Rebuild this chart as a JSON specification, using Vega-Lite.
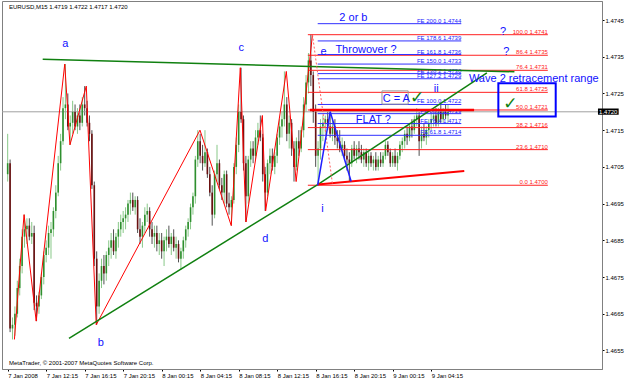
{
"$schema": "https://vega.github.io/schema/vega-lite/v6.json",
"width": 600, "height": 368,
"autosize": {"type": "none"},
"padding": {"left": 2, "top": 1, "right": 23, "bottom": 10},
"background": "white",
"config": {"view": {"stroke": "#808080", "strokeWidth": 1},
 "axis": {"labelFont": "Liberation Sans", "labelFontSize": 6, "labelColor": "#000000", "tickColor": "#000000", "tickSize": 2, "domainColor": "#808080", "grid": false}},
"datasets": {
"candles": [
{"t":0,"o":1.4703,"h":1.4714,"l":1.4701,"c":1.4706},
{"t":0.25,"o":1.4706,"h":1.4707,"l":1.466,"c":1.4661},
{"t":0.5,"o":1.4661,"h":1.4664,"l":1.4658,"c":1.4662},
{"t":0.75,"o":1.4662,"h":1.4667,"l":1.4659,"c":1.4665},
{"t":1,"o":1.4665,"h":1.4674,"l":1.4664,"c":1.4672},
{"t":1.25,"o":1.4672,"h":1.468,"l":1.467,"c":1.4678},
{"t":1.5,"o":1.4678,"h":1.4688,"l":1.4676,"c":1.4686},
{"t":1.75,"o":1.4686,"h":1.4692,"l":1.4683,"c":1.4688},
{"t":2,"o":1.4688,"h":1.4691,"l":1.4684,"c":1.4689},
{"t":2.25,"o":1.4689,"h":1.4691,"l":1.4685,"c":1.4686},
{"t":2.5,"o":1.4686,"h":1.469,"l":1.4684,"c":1.4687},
{"t":2.75,"o":1.4687,"h":1.4689,"l":1.4666,"c":1.4668},
{"t":3,"o":1.4668,"h":1.467,"l":1.4663,"c":1.4667},
{"t":3.25,"o":1.4667,"h":1.4671,"l":1.4665,"c":1.467},
{"t":3.5,"o":1.467,"h":1.4676,"l":1.4669,"c":1.4675},
{"t":3.75,"o":1.4675,"h":1.4682,"l":1.4673,"c":1.4681},
{"t":4,"o":1.4681,"h":1.4685,"l":1.4679,"c":1.4683},
{"t":4.25,"o":1.4683,"h":1.4689,"l":1.4681,"c":1.4687},
{"t":4.5,"o":1.4687,"h":1.469,"l":1.468,"c":1.4688},
{"t":4.75,"o":1.4688,"h":1.4694,"l":1.4686,"c":1.4693},
{"t":5,"o":1.4693,"h":1.47,"l":1.4691,"c":1.4698},
{"t":5.25,"o":1.4698,"h":1.4708,"l":1.4697,"c":1.4706},
{"t":5.5,"o":1.4706,"h":1.4714,"l":1.4704,"c":1.4712},
{"t":5.75,"o":1.4712,"h":1.4724,"l":1.4711,"c":1.4721},
{"t":6,"o":1.4721,"h":1.4733,"l":1.4718,"c":1.4722},
{"t":6.25,"o":1.4722,"h":1.4725,"l":1.4715,"c":1.4716},
{"t":6.5,"o":1.4716,"h":1.4719,"l":1.4711,"c":1.4717},
{"t":6.75,"o":1.4717,"h":1.4723,"l":1.4714,"c":1.472},
{"t":7,"o":1.472,"h":1.4722,"l":1.4715,"c":1.4716},
{"t":7.25,"o":1.4716,"h":1.4721,"l":1.4714,"c":1.4719},
{"t":7.5,"o":1.4719,"h":1.4722,"l":1.4715,"c":1.4717},
{"t":7.75,"o":1.4717,"h":1.4724,"l":1.4716,"c":1.4722},
{"t":8,"o":1.4722,"h":1.4727,"l":1.4719,"c":1.4721},
{"t":8.25,"o":1.4721,"h":1.4723,"l":1.4716,"c":1.4717},
{"t":8.5,"o":1.4717,"h":1.4719,"l":1.4712,"c":1.4714},
{"t":8.75,"o":1.4714,"h":1.4715,"l":1.4699,"c":1.47},
{"t":9,"o":1.47,"h":1.4701,"l":1.4678,"c":1.468},
{"t":9.25,"o":1.468,"h":1.4682,"l":1.4662,"c":1.4667},
{"t":9.5,"o":1.4667,"h":1.4676,"l":1.4665,"c":1.4674},
{"t":9.75,"o":1.4674,"h":1.468,"l":1.4672,"c":1.4678},
{"t":10,"o":1.4678,"h":1.4681,"l":1.4673,"c":1.4676},
{"t":10.25,"o":1.4676,"h":1.4682,"l":1.4674,"c":1.4681},
{"t":10.5,"o":1.4681,"h":1.4685,"l":1.4678,"c":1.4683},
{"t":10.75,"o":1.4683,"h":1.4687,"l":1.468,"c":1.4685},
{"t":11,"o":1.4685,"h":1.4688,"l":1.4681,"c":1.4682},
{"t":11.25,"o":1.4682,"h":1.4687,"l":1.468,"c":1.4686},
{"t":11.5,"o":1.4686,"h":1.469,"l":1.4683,"c":1.4688},
{"t":11.75,"o":1.4688,"h":1.4692,"l":1.4686,"c":1.469},
{"t":12,"o":1.469,"h":1.4693,"l":1.4687,"c":1.4691},
{"t":12.25,"o":1.4691,"h":1.4694,"l":1.4688,"c":1.4692},
{"t":12.5,"o":1.4692,"h":1.4696,"l":1.469,"c":1.4695},
{"t":12.75,"o":1.4695,"h":1.4698,"l":1.4692,"c":1.4696},
{"t":13,"o":1.4696,"h":1.4698,"l":1.4693,"c":1.4694},
{"t":13.25,"o":1.4694,"h":1.4697,"l":1.4692,"c":1.4696},
{"t":13.5,"o":1.4696,"h":1.4697,"l":1.4687,"c":1.4688},
{"t":13.75,"o":1.4688,"h":1.4691,"l":1.4684,"c":1.4686},
{"t":14,"o":1.4686,"h":1.469,"l":1.4683,"c":1.4689},
{"t":14.25,"o":1.4689,"h":1.4694,"l":1.4687,"c":1.4692},
{"t":14.5,"o":1.4692,"h":1.4695,"l":1.469,"c":1.4693},
{"t":14.75,"o":1.4693,"h":1.4694,"l":1.4686,"c":1.4688},
{"t":15,"o":1.4688,"h":1.469,"l":1.4684,"c":1.4686},
{"t":15.25,"o":1.4686,"h":1.4689,"l":1.4683,"c":1.4687},
{"t":15.5,"o":1.4687,"h":1.4689,"l":1.4682,"c":1.4684},
{"t":15.75,"o":1.4684,"h":1.4687,"l":1.4681,"c":1.4685},
{"t":16,"o":1.4685,"h":1.4687,"l":1.468,"c":1.4682},
{"t":16.25,"o":1.4682,"h":1.4686,"l":1.4678,"c":1.4685},
{"t":16.5,"o":1.4685,"h":1.4688,"l":1.4682,"c":1.4686},
{"t":16.75,"o":1.4686,"h":1.4689,"l":1.4683,"c":1.4684},
{"t":17,"o":1.4684,"h":1.4687,"l":1.4681,"c":1.4686},
{"t":17.25,"o":1.4686,"h":1.4688,"l":1.4682,"c":1.4683},
{"t":17.5,"o":1.4683,"h":1.4686,"l":1.468,"c":1.4684},
{"t":17.75,"o":1.4684,"h":1.4685,"l":1.4679,"c":1.468},
{"t":18,"o":1.468,"h":1.4683,"l":1.4677,"c":1.4682},
{"t":18.25,"o":1.4682,"h":1.4686,"l":1.468,"c":1.4685},
{"t":18.5,"o":1.4685,"h":1.4689,"l":1.4683,"c":1.4688},
{"t":18.75,"o":1.4688,"h":1.4691,"l":1.4686,"c":1.469},
{"t":19,"o":1.469,"h":1.4695,"l":1.4688,"c":1.4694},
{"t":19.25,"o":1.4694,"h":1.4698,"l":1.4692,"c":1.4697},
{"t":19.5,"o":1.4697,"h":1.4708,"l":1.4695,"c":1.4707},
{"t":19.75,"o":1.4707,"h":1.4715,"l":1.4705,"c":1.4712},
{"t":20,"o":1.4712,"h":1.4714,"l":1.4706,"c":1.4708},
{"t":20.25,"o":1.4708,"h":1.4711,"l":1.4704,"c":1.4706},
{"t":20.5,"o":1.4706,"h":1.4715,"l":1.4705,"c":1.4709},
{"t":20.75,"o":1.4709,"h":1.471,"l":1.4702,"c":1.4703},
{"t":21,"o":1.4703,"h":1.4705,"l":1.4697,"c":1.4698},
{"t":21.25,"o":1.4698,"h":1.47,"l":1.4689,"c":1.4692},
{"t":21.5,"o":1.4692,"h":1.4704,"l":1.4691,"c":1.4703},
{"t":21.75,"o":1.4703,"h":1.4711,"l":1.4701,"c":1.4706},
{"t":22,"o":1.4706,"h":1.4707,"l":1.4699,"c":1.47},
{"t":22.25,"o":1.47,"h":1.4702,"l":1.4696,"c":1.4698},
{"t":22.5,"o":1.4698,"h":1.4704,"l":1.4695,"c":1.4703},
{"t":22.75,"o":1.4703,"h":1.4704,"l":1.4694,"c":1.4695},
{"t":23,"o":1.4695,"h":1.4698,"l":1.4692,"c":1.4694},
{"t":23.25,"o":1.4694,"h":1.4697,"l":1.4689,"c":1.4696},
{"t":23.5,"o":1.4696,"h":1.4706,"l":1.4695,"c":1.4705},
{"t":23.75,"o":1.4705,"h":1.4713,"l":1.4703,"c":1.4711},
{"t":24,"o":1.4711,"h":1.4722,"l":1.4709,"c":1.472},
{"t":24.25,"o":1.472,"h":1.4732,"l":1.4717,"c":1.4718},
{"t":24.5,"o":1.4718,"h":1.4719,"l":1.4704,"c":1.4706},
{"t":24.75,"o":1.4706,"h":1.4708,"l":1.469,"c":1.4697},
{"t":25,"o":1.4697,"h":1.4708,"l":1.4695,"c":1.4707},
{"t":25.25,"o":1.4707,"h":1.4712,"l":1.4705,"c":1.471},
{"t":25.5,"o":1.471,"h":1.4712,"l":1.4706,"c":1.4708},
{"t":25.75,"o":1.4708,"h":1.4715,"l":1.4707,"c":1.4713},
{"t":26,"o":1.4713,"h":1.4717,"l":1.4711,"c":1.4715},
{"t":26.25,"o":1.4715,"h":1.4719,"l":1.4712,"c":1.4713},
{"t":26.5,"o":1.4713,"h":1.4714,"l":1.4701,"c":1.4703},
{"t":26.75,"o":1.4703,"h":1.4705,"l":1.4693,"c":1.4698},
{"t":27,"o":1.4698,"h":1.4707,"l":1.4697,"c":1.4706},
{"t":27.25,"o":1.4706,"h":1.471,"l":1.4703,"c":1.4708},
{"t":27.5,"o":1.4708,"h":1.471,"l":1.4704,"c":1.4705},
{"t":27.75,"o":1.4705,"h":1.4709,"l":1.4703,"c":1.4708},
{"t":28,"o":1.4708,"h":1.4714,"l":1.4706,"c":1.4713},
{"t":28.25,"o":1.4713,"h":1.4718,"l":1.4711,"c":1.4716},
{"t":28.5,"o":1.4716,"h":1.472,"l":1.4713,"c":1.4718},
{"t":28.75,"o":1.4718,"h":1.4731,"l":1.4716,"c":1.4722},
{"t":29,"o":1.4722,"h":1.4724,"l":1.4712,"c":1.4714},
{"t":29.25,"o":1.4714,"h":1.4719,"l":1.471,"c":1.4717},
{"t":29.5,"o":1.4717,"h":1.4718,"l":1.4708,"c":1.471},
{"t":29.75,"o":1.471,"h":1.4712,"l":1.4701,"c":1.4705},
{"t":30,"o":1.4705,"h":1.4713,"l":1.4704,"c":1.4712},
{"t":30.25,"o":1.4712,"h":1.4715,"l":1.4708,"c":1.471},
{"t":30.5,"o":1.471,"h":1.4716,"l":1.4709,"c":1.4715},
{"t":30.75,"o":1.4715,"h":1.4724,"l":1.4713,"c":1.4722},
{"t":31,"o":1.4722,"h":1.473,"l":1.472,"c":1.4728},
{"t":31.25,"o":1.4728,"h":1.4736,"l":1.4725,"c":1.4734},
{"t":31.5,"o":1.4734,"h":1.4741,"l":1.4727,"c":1.473},
{"t":31.75,"o":1.473,"h":1.4731,"l":1.4717,"c":1.472},
{"t":32,"o":1.472,"h":1.4722,"l":1.4705,"c":1.4708},
{"t":32.25,"o":1.4708,"h":1.4712,"l":1.47,"c":1.471},
{"t":32.5,"o":1.471,"h":1.4718,"l":1.4707,"c":1.4716},
{"t":32.75,"o":1.4716,"h":1.4719,"l":1.4712,"c":1.4717},
{"t":33,"o":1.4717,"h":1.4719,"l":1.4714,"c":1.4718},
{"t":33.25,"o":1.4718,"h":1.472,"l":1.4715,"c":1.4716},
{"t":33.5,"o":1.4716,"h":1.472,"l":1.4713,"c":1.4714},
{"t":33.75,"o":1.4714,"h":1.4718,"l":1.4712,"c":1.4716},
{"t":34,"o":1.4716,"h":1.4718,"l":1.4711,"c":1.4713},
{"t":34.25,"o":1.4713,"h":1.4715,"l":1.471,"c":1.4712},
{"t":34.5,"o":1.4712,"h":1.4715,"l":1.4709,"c":1.471},
{"t":34.75,"o":1.471,"h":1.4713,"l":1.4708,"c":1.4711},
{"t":35,"o":1.4711,"h":1.4712,"l":1.4707,"c":1.4708},
{"t":35.25,"o":1.4708,"h":1.471,"l":1.4704,"c":1.4707},
{"t":35.5,"o":1.4707,"h":1.4709,"l":1.4701,"c":1.4706},
{"t":35.75,"o":1.4706,"h":1.4711,"l":1.4705,"c":1.471},
{"t":36,"o":1.471,"h":1.4712,"l":1.4707,"c":1.4708},
{"t":36.25,"o":1.4708,"h":1.4711,"l":1.4706,"c":1.471},
{"t":36.5,"o":1.471,"h":1.4712,"l":1.4707,"c":1.4709},
{"t":36.75,"o":1.4709,"h":1.4711,"l":1.4706,"c":1.4707},
{"t":37,"o":1.4707,"h":1.471,"l":1.4705,"c":1.4709},
{"t":37.25,"o":1.4709,"h":1.471,"l":1.4705,"c":1.4706},
{"t":37.5,"o":1.4706,"h":1.4709,"l":1.4704,"c":1.4708},
{"t":37.75,"o":1.4708,"h":1.4709,"l":1.4705,"c":1.4706},
{"t":38,"o":1.4706,"h":1.4708,"l":1.4704,"c":1.4707},
{"t":38.25,"o":1.4707,"h":1.4709,"l":1.4704,"c":1.4705},
{"t":38.5,"o":1.4705,"h":1.4708,"l":1.4704,"c":1.4707},
{"t":38.75,"o":1.4707,"h":1.4709,"l":1.4705,"c":1.4706},
{"t":39,"o":1.4706,"h":1.4709,"l":1.4705,"c":1.4708},
{"t":39.25,"o":1.4708,"h":1.4712,"l":1.4707,"c":1.4711},
{"t":39.5,"o":1.4711,"h":1.4712,"l":1.4708,"c":1.4709},
{"t":39.75,"o":1.4709,"h":1.471,"l":1.4705,"c":1.4706},
{"t":40,"o":1.4706,"h":1.4709,"l":1.4705,"c":1.4708},
{"t":40.25,"o":1.4708,"h":1.471,"l":1.4705,"c":1.4706},
{"t":40.5,"o":1.4706,"h":1.4709,"l":1.4704,"c":1.4708},
{"t":40.75,"o":1.4708,"h":1.4712,"l":1.4707,"c":1.4711},
{"t":41,"o":1.4711,"h":1.4713,"l":1.4709,"c":1.4712},
{"t":41.25,"o":1.4712,"h":1.4715,"l":1.471,"c":1.4714},
{"t":41.5,"o":1.4714,"h":1.4716,"l":1.4711,"c":1.4713},
{"t":41.75,"o":1.4713,"h":1.4717,"l":1.4712,"c":1.4716},
{"t":42,"o":1.4716,"h":1.4718,"l":1.4713,"c":1.4715},
{"t":42.25,"o":1.4715,"h":1.4719,"l":1.4714,"c":1.4718},
{"t":42.5,"o":1.4718,"h":1.4721,"l":1.4716,"c":1.4719},
{"t":42.75,"o":1.4719,"h":1.472,"l":1.4708,"c":1.4712},
{"t":43,"o":1.4712,"h":1.4716,"l":1.471,"c":1.4714},
{"t":43.25,"o":1.4714,"h":1.4717,"l":1.4712,"c":1.4713},
{"t":43.5,"o":1.4713,"h":1.4716,"l":1.4711,"c":1.4715},
{"t":43.75,"o":1.4715,"h":1.4718,"l":1.4713,"c":1.4717},
{"t":44,"o":1.4717,"h":1.472,"l":1.4715,"c":1.4718},
{"t":44.25,"o":1.4718,"h":1.472,"l":1.4716,"c":1.4719},
{"t":44.5,"o":1.4719,"h":1.4721,"l":1.4716,"c":1.4717},
{"t":44.75,"o":1.4717,"h":1.4721,"l":1.4716,"c":1.472},
{"t":45,"o":1.472,"h":1.4722,"l":1.4717,"c":1.4718},
{"t":45.25,"o":1.4718,"h":1.4721,"l":1.4717,"c":1.472},
{"t":45.5,"o":1.472,"h":1.4722,"l":1.4718,"c":1.4719},
{"t":45.75,"o":1.4719,"h":1.4722,"l":1.4717,"c":1.472}
],
"zigzag": [{"t":0.7,"p":1.4658},{"t":1.7,"p":1.4692},{"t":2.96,"p":1.4663},{"t":5.93,"p":1.4733},{"t":6.47,"p":1.4711},{"t":8.17,"p":1.4727},{"t":9.2,"p":1.4662},{"t":19.98,"p":1.4715},{"t":23.23,"p":1.4689},{"t":24.17,"p":1.4732},{"t":24.76,"p":1.469},{"t":26.46,"p":1.4719},{"t":26.8,"p":1.4693},{"t":28.95,"p":1.4731},{"t":29.97,"p":1.4701},{"t":31.67,"p":1.4741}],
"green": [{"id":"u","t":3.64,"p":1.47343},{"id":"u","t":52.65,"p":1.47309},{"id":"a","t":6.37,"p":1.46583},{"id":"a","t":32.21,"p":1.47002},{"id":"b","t":32.21,"p":1.47002},{"id":"b","t":49.79,"p":1.47306}],
"support": [{"t":32.21,"p":1.47002},{"t":47.44,"p":1.47039}],
"thick": [{"t":31.4,"p":1.47205},{"t":48.46,"p":1.47205}],
"dotted": [{"t":31.67,"p":1.4741},{"t":33.75,"p":1.47003}],
"flat": [{"t":32.21,"p":1.47},{"t":33.51,"p":1.472},{"t":35.69,"p":1.4701}],
"fibr": [{"p":1.4741,"lab":"100.0  1.4741"},{"p":1.47354,"lab":"86.4  1.4735"},{"p":1.47313,"lab":"76.4  1.4731"},{"p":1.47253,"lab":"61.8  1.4725"},{"p":1.47205,"lab":"50.0  1.4721"},{"p":1.47157,"lab":"38.2  1.4716"},{"p":1.47097,"lab":"23.6  1.4710"},{"p":1.47,"lab":"0.0  1.4700"}],
"fe": [{"p":1.4744,"lab":"FE 200.0  1.4744"},{"p":1.47393,"lab":"FE 178.6  1.4739"},{"p":1.47356,"lab":"FE 161.8  1.4736"},{"p":1.4733,"lab":"FE 150.0  1.4733"},{"p":1.47304,"lab":"FE 138.2  1.4730"},{"p":1.4729,"lab":"FE 127.2  1.4729"},{"p":1.4722,"lab":"FE 100.0  1.4722"},{"p":1.47195,"lab":"FE 88.6  1.4719"},{"p":1.47168,"lab":"FE 76.4  1.4717"},{"p":1.47136,"lab":"FE 61.8  1.4714"}],
"labels": [{"txt":"a","t":5.68,"p":1.47377},{"txt":"b","t":9.36,"p":1.46562},{"txt":"c","t":23.97,"p":1.47366},{"txt":"d","t":26.46,"p":1.46845},{"txt":"e","t":32.49,"p":1.47355},{"txt":"i","t":32.59,"p":1.46928},{"txt":"ii","t":44.27,"p":1.47255},{"txt":"2 or b","t":34.46,"p":1.47448},{"txt":"Throwover ?","t":34.05,"p":1.47361},{"txt":"Wave 2 retracement range","t":47.92,"p":1.47282},{"txt":"C = A","t":38.96,"p":1.47228},{"txt":"FLAT ?","t":36.17,"p":1.47169},{"txt":"?","t":51.15,"p":1.47409},{"txt":"?","t":51.49,"p":1.47355}],
"checks": [{"t":41.79,"p":1.47224},{"t":51.49,"p":1.47209}],
"info": [{"txt":"EURUSD,M15  1.4719 1.4722 1.4717 1.4720","t":0.13,"p":1.47486},{"txt":"MetaTrader, © 2001-2007 MetaQuotes Software Corp.","t":0.13,"p":1.46516}]
},
"layer": [
{"data":{"name":"candles"},"mark":{"type":"rule","strokeWidth":1},
 "encoding":{
  "x":{"field":"t","type":"quantitative","scale":{"domain":[-0.07,61.23],"nice":false,"zero":false},
   "axis":{"title":null,"values":[0,4,8,12,16,20,24,28,32,36,40,44],"labelExpr":"['7 Jan 2008','7 Jan 12:15','7 Jan 16:15','7 Jan 20:15','8 Jan 00:15','8 Jan 04:15','8 Jan 08:15','8 Jan 12:15','8 Jan 16:15','8 Jan 20:15','9 Jan 00:15','9 Jan 04:15'][round(datum.value/4)]","labelAlign":"left","labelPadding":1,"labelOverlap":false,"labelFlush":false}},
  "y":{"field":"l","type":"quantitative","scale":{"domain":[1.4649962,1.4750174],"nice":false,"zero":false},
   "axis":{"title":null,"orient":"right","values":[1.4655,1.4665,1.4675,1.4685,1.4695,1.4705,1.4715,1.4725,1.4735,1.4745],"format":".4f","labelPadding":1,"labelOverlap":false,"labelFlush":false}},
  "y2":{"field":"h"},
  "color":{"condition":{"test":"datum.c >= datum.o","value":"#88c888"},"value":"#505050"}}},
{"data":{"values":[{"p":1.472}]},"mark":{"type":"rule","color":"#a0a0a0","strokeWidth":1},
 "encoding":{"y":{"field":"p","type":"quantitative","title":null,"scale":{"domain":[1.4649962,1.4750174],"nice":false,"zero":false}}}},
{"data":{"name":"candles"},"mark":{"type":"bar","size":1.6},
 "encoding":{
  "x":{"field":"t","type":"quantitative","title":null,"scale":{"domain":[-0.07,61.23],"nice":false,"zero":false}},
  "y":{"field":"o","type":"quantitative","title":null,"scale":{"domain":[1.4649962,1.4750174],"nice":false,"zero":false}},
  "y2":{"field":"c"},
  "color":{"condition":{"test":"datum.c >= datum.o","value":"#2f8f2f"},"value":"#6b1111"}}},
{"data":{"name":"fibr"},"mark":{"type":"rule","color":"#ff2020","strokeWidth":1},
 "encoding":{"x":{"datum":31.19,"type":"quantitative","scale":{"domain":[-0.07,61.23],"nice":false,"zero":false}},"x2":{"datum":56.12},
  "y":{"field":"p","type":"quantitative","title":null,"scale":{"domain":[1.4649962,1.4750174],"nice":false,"zero":false}}}},
{"data":{"name":"fibr"},"mark":{"type":"text","color":"#ff2020","font":"Liberation Sans","fontSize":6,"align":"right","baseline":"bottom"},
 "encoding":{"x":{"datum":56.12,"type":"quantitative","scale":{"domain":[-0.07,61.23],"nice":false,"zero":false}},
  "y":{"field":"p","type":"quantitative","title":null,"scale":{"domain":[1.4649962,1.4750174],"nice":false,"zero":false}},"text":{"field":"lab"}}},
{"data":{"name":"fe"},"mark":{"type":"rule","color":"#3030ff","strokeWidth":1},
 "encoding":{"x":{"datum":32.21,"type":"quantitative","scale":{"domain":[-0.07,61.23],"nice":false,"zero":false}},"x2":{"datum":47.13},
  "y":{"field":"p","type":"quantitative","title":null,"scale":{"domain":[1.4649962,1.4750174],"nice":false,"zero":false}}}},
{"data":{"name":"fe"},"mark":{"type":"text","color":"#2020ff","font":"Liberation Sans","fontSize":6,"align":"right","baseline":"bottom"},
 "encoding":{"x":{"datum":47.13,"type":"quantitative","scale":{"domain":[-0.07,61.23],"nice":false,"zero":false}},
  "y":{"field":"p","type":"quantitative","title":null,"scale":{"domain":[1.4649962,1.4750174],"nice":false,"zero":false}},"text":{"field":"lab"}}},
{"data":{"name":"zigzag"},"mark":{"type":"line","color":"#ff0000","strokeWidth":1},
 "encoding":{"x":{"field":"t","type":"quantitative","title":null,"scale":{"domain":[-0.07,61.23],"nice":false,"zero":false}},
  "y":{"field":"p","type":"quantitative","title":null,"scale":{"domain":[1.4649962,1.4750174],"nice":false,"zero":false}}}},
{"data":{"name":"green"},"mark":{"type":"line","color":"#108010","strokeWidth":1.5},
 "encoding":{"x":{"field":"t","type":"quantitative","title":null,"scale":{"domain":[-0.07,61.23],"nice":false,"zero":false}},
  "y":{"field":"p","type":"quantitative","title":null,"scale":{"domain":[1.4649962,1.4750174],"nice":false,"zero":false}},"detail":{"field":"id"}}},
{"data":{"name":"support"},"mark":{"type":"line","color":"#ff0000","strokeWidth":2},
 "encoding":{"x":{"field":"t","type":"quantitative","title":null,"scale":{"domain":[-0.07,61.23],"nice":false,"zero":false}},
  "y":{"field":"p","type":"quantitative","title":null,"scale":{"domain":[1.4649962,1.4750174],"nice":false,"zero":false}}}},
{"data":{"name":"thick"},"mark":{"type":"line","color":"#ff0000","strokeWidth":2.5},
 "encoding":{"x":{"field":"t","type":"quantitative","title":null,"scale":{"domain":[-0.07,61.23],"nice":false,"zero":false}},
  "y":{"field":"p","type":"quantitative","title":null,"scale":{"domain":[1.4649962,1.4750174],"nice":false,"zero":false}}}},
{"data":{"name":"dotted"},"mark":{"type":"line","color":"#ff6060","strokeWidth":1,"strokeDash":[2,2]},
 "encoding":{"x":{"field":"t","type":"quantitative","title":null,"scale":{"domain":[-0.07,61.23],"nice":false,"zero":false}},
  "y":{"field":"p","type":"quantitative","title":null,"scale":{"domain":[1.4649962,1.4750174],"nice":false,"zero":false}}}},
{"data":{"name":"flat"},"mark":{"type":"line","color":"#2020ff","strokeWidth":1.5},
 "encoding":{"x":{"field":"t","type":"quantitative","title":null,"scale":{"domain":[-0.07,61.23],"nice":false,"zero":false}},
  "y":{"field":"p","type":"quantitative","title":null,"scale":{"domain":[1.4649962,1.4750174],"nice":false,"zero":false}}}},
{"data":{"values":[{"t1":38.89,"t2":41.61,"p1":1.47257,"p2":1.47221}]},"mark":{"type":"rect","fill":"white","fillOpacity":0,"stroke":"#999999","strokeWidth":1},
 "encoding":{"x":{"field":"t1","type":"quantitative","title":null,"scale":{"domain":[-0.07,61.23],"nice":false,"zero":false}},"x2":{"field":"t2"},
  "y":{"field":"p1","type":"quantitative","title":null,"scale":{"domain":[1.4649962,1.4750174],"nice":false,"zero":false}},"y2":{"field":"p2"}}},
{"data":{"values":[{"t1":50.98,"t2":56.94,"p1":1.47278,"p2":1.47187}]},"mark":{"type":"rect","fillOpacity":0,"stroke":"#0000ff","strokeWidth":2},
 "encoding":{"x":{"field":"t1","type":"quantitative","title":null,"scale":{"domain":[-0.07,61.23],"nice":false,"zero":false}},"x2":{"field":"t2"},
  "y":{"field":"p1","type":"quantitative","title":null,"scale":{"domain":[1.4649962,1.4750174],"nice":false,"zero":false}},"y2":{"field":"p2"}}},
{"data":{"name":"labels"},"mark":{"type":"text","color":"#1010ff","font":"Liberation Sans","fontSize":11,"align":"left","baseline":"alphabetic"},
 "encoding":{"x":{"field":"t","type":"quantitative","title":null,"scale":{"domain":[-0.07,61.23],"nice":false,"zero":false}},
  "y":{"field":"p","type":"quantitative","title":null,"scale":{"domain":[1.4649962,1.4750174],"nice":false,"zero":false}},"text":{"field":"txt"}}},
{"data":{"name":"checks"},"mark":{"type":"text","color":"#108010","font":"DejaVu Sans","fontSize":17,"align":"left","baseline":"alphabetic","text":"✓"},
 "encoding":{"x":{"field":"t","type":"quantitative","title":null,"scale":{"domain":[-0.07,61.23],"nice":false,"zero":false}},
  "y":{"field":"p","type":"quantitative","title":null,"scale":{"domain":[1.4649962,1.4750174],"nice":false,"zero":false}}}},
{"data":{"name":"info"},"mark":{"type":"text","color":"#000000","font":"Liberation Sans","fontSize":6,"align":"left","baseline":"middle"},
 "encoding":{"x":{"field":"t","type":"quantitative","title":null,"scale":{"domain":[-0.07,61.23],"nice":false,"zero":false}},
  "y":{"field":"p","type":"quantitative","title":null,"scale":{"domain":[1.4649962,1.4750174],"nice":false,"zero":false}},"text":{"field":"txt"}}},
{"data":{"values":[{"t1":61.33,"t2":63.48,"p1":1.47209,"p2":1.47192,"tm":62.4,"p":1.472,"lab":"1.4720"}]},
 "layer":[
  {"mark":{"type":"rect","fill":"#000000"},
   "encoding":{"x":{"field":"t1","type":"quantitative","title":null,"scale":{"domain":[-0.07,61.23],"nice":false,"zero":false}},"x2":{"field":"t2"},
    "y":{"field":"p1","type":"quantitative","title":null,"scale":{"domain":[1.4649962,1.4750174],"nice":false,"zero":false}},"y2":{"field":"p2"}}},
  {"mark":{"type":"text","color":"#ffffff","font":"Liberation Sans","fontSize":6,"align":"center","baseline":"middle"},
   "encoding":{"x":{"field":"tm","type":"quantitative","title":null,"scale":{"domain":[-0.07,61.23],"nice":false,"zero":false}},
    "y":{"field":"p","type":"quantitative","title":null,"scale":{"domain":[1.4649962,1.4750174],"nice":false,"zero":false}},"text":{"field":"lab"}}}
 ]}
]
}
